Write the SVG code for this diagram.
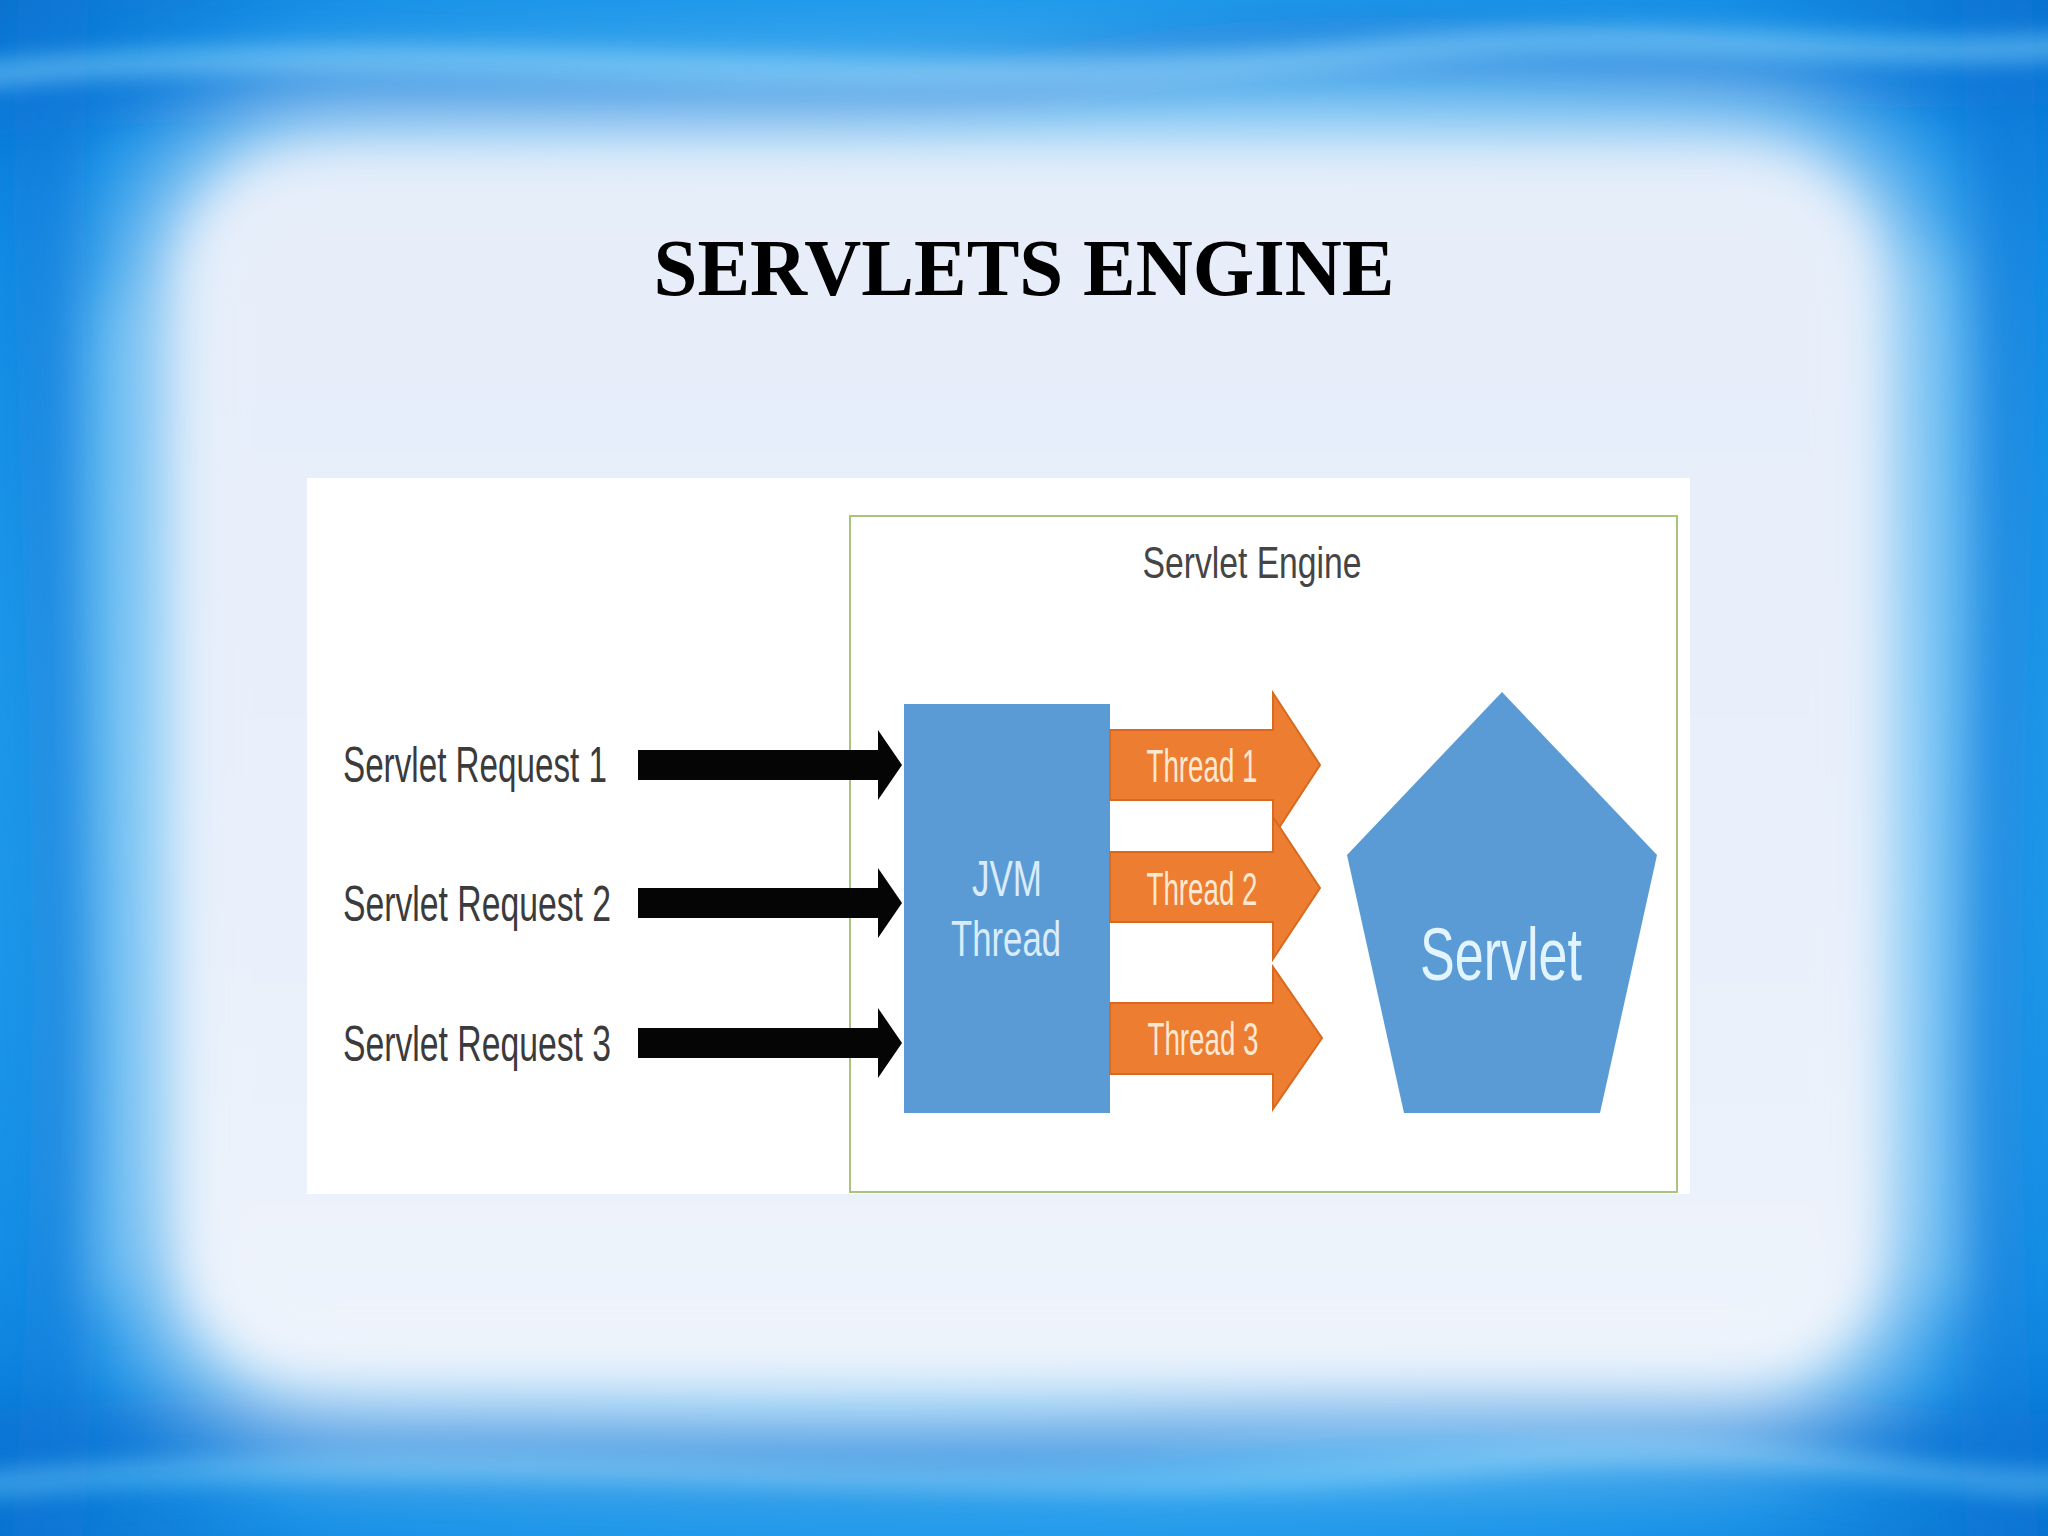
<svg xmlns="http://www.w3.org/2000/svg" width="2048" height="1536" viewBox="0 0 2048 1536">
<defs>
<style>
.lbl{font-family:"Liberation Sans","DejaVu Sans",sans-serif;}
.req{font-size:50px;fill:#3b3b3b;}
.thr{font-size:46px;fill:#fde9d2;}
.jvm{font-size:50px;fill:#d8ecfb;}
.blue{fill:#5b9bd5;}
.orange{fill:#ed7d31;stroke:#d9691f;stroke-width:2;}
.blk{fill:#050505;}
</style>
<filter id="b60" filterUnits="userSpaceOnUse" x="-300" y="-300" width="2648" height="2136"><feGaussianBlur stdDeviation="60"/></filter>
<filter id="b25" filterUnits="userSpaceOnUse" x="-300" y="-300" width="2648" height="2136"><feGaussianBlur stdDeviation="25"/></filter>
<filter id="b12" filterUnits="userSpaceOnUse" x="-300" y="-300" width="2648" height="2136"><feGaussianBlur stdDeviation="12"/></filter>
<radialGradient id="bg" cx="50%" cy="50%" r="75%">
<stop offset="0.5" stop-color="#2aa6f0"/>
<stop offset="0.8" stop-color="#138ee6"/>
<stop offset="1" stop-color="#0a66c4"/>
</radialGradient>
<linearGradient id="inner" x1="0" y1="0" x2="0" y2="1">
<stop offset="0" stop-color="#e6eefa"/>
<stop offset="0.6" stop-color="#e9f0fb"/>
<stop offset="1" stop-color="#eef4fc"/>
</linearGradient>
</defs>

<g id="background">
<rect width="2048" height="1536" fill="url(#bg)"/>
<path d="M-100,120 C300,40 700,160 1100,70 C1500,0 1800,120 2148,60" fill="none" stroke="#0b74d6" stroke-width="60" filter="url(#b25)" opacity="0.7"/>
<path d="M-100,1460 C400,1380 800,1500 1200,1420 C1600,1350 1850,1480 2148,1440" fill="none" stroke="#0b6fd0" stroke-width="70" filter="url(#b25)" opacity="0.7"/>
<path d="M60,-100 C20,400 110,800 40,1636" fill="none" stroke="#0d78d8" stroke-width="70" filter="url(#b25)" opacity="0.6"/>
<path d="M1990,-100 C2030,400 1950,900 2010,1636" fill="none" stroke="#0d78d8" stroke-width="70" filter="url(#b25)" opacity="0.6"/>
<path d="M-60,80 C400,20 900,110 1400,50 C1700,20 1900,70 2120,40" fill="none" stroke="#7fd0fa" stroke-width="18" filter="url(#b12)" opacity="0.8"/>
<path d="M-60,1490 C500,1430 1000,1520 1500,1460 C1800,1430 1950,1500 2120,1480" fill="none" stroke="#6cc8f8" stroke-width="18" filter="url(#b12)" opacity="0.7"/>
<path d="M120,300 C90,600 150,1000 110,1300" fill="none" stroke="#5fc0f6" stroke-width="30" filter="url(#b25)" opacity="0.6"/>
<path d="M1930,250 C1960,600 1900,1000 1940,1300" fill="none" stroke="#5fc0f6" stroke-width="30" filter="url(#b25)" opacity="0.6"/>
<rect x="140" y="110" width="1780" height="1320" rx="180" fill="#eaf2fc" filter="url(#b60)"/>
<rect x="190" y="160" width="1680" height="1210" rx="120" fill="url(#inner)" filter="url(#b25)"/>
</g>

<g id="title">
<text x="1024" y="295" text-anchor="middle" font-family="'Liberation Serif','Times New Roman',serif" font-weight="bold" font-size="80" textLength="741" lengthAdjust="spacingAndGlyphs" fill="#000">SERVLETS ENGINE</text>
</g>

<g id="panel">
<rect x="307" y="478" width="1383" height="716" fill="#ffffff"/>
</g>

<g id="servlet-engine">
<rect x="850" y="516" width="827" height="676" fill="#ffffff" stroke="#a9c47c" stroke-width="2"/>
<text class="lbl" x="1252" y="578" text-anchor="middle" font-size="44" fill="#454545" textLength="219" lengthAdjust="spacingAndGlyphs">Servlet Engine</text>
</g>

<g id="requests">
<text class="lbl req" x="343" y="782" textLength="264" lengthAdjust="spacingAndGlyphs">Servlet Request 1</text>
<text class="lbl req" x="343" y="921" textLength="268" lengthAdjust="spacingAndGlyphs">Servlet Request 2</text>
<text class="lbl req" x="343" y="1061" textLength="268" lengthAdjust="spacingAndGlyphs">Servlet Request 3</text>
</g>

<g id="connectors">
<path class="blk" d="M638,750 H878 V730 L902,765 L878,800 V780 H638 Z"/>
<path class="blk" d="M638,888 H878 V868 L902,903 L878,938 V918 H638 Z"/>
<path class="blk" d="M638,1028 H878 V1008 L902,1043 L878,1078 V1058 H638 Z"/>
</g>

<g id="jvm-thread">
<rect class="blue" x="904" y="704" width="206" height="409"/>
<text class="lbl jvm" x="1007" y="896" text-anchor="middle" textLength="70" lengthAdjust="spacingAndGlyphs">JVM</text>
<text class="lbl jvm" x="1006" y="956" text-anchor="middle" textLength="110" lengthAdjust="spacingAndGlyphs">Thread</text>
</g>

<g id="thread-1">
<path class="orange" d="M1110,730 H1273 V693 L1320,765 L1273,837 V800 H1110 Z"/>
<text class="lbl thr" x="1202" y="782" text-anchor="middle" textLength="111" lengthAdjust="spacingAndGlyphs">Thread 1</text>
</g>
<g id="thread-2">
<path class="orange" d="M1110,852 H1273 V817 L1320,888 L1273,959 V922 H1110 Z"/>
<text class="lbl thr" x="1202" y="905" text-anchor="middle" textLength="111" lengthAdjust="spacingAndGlyphs">Thread 2</text>
</g>
<g id="thread-3">
<path class="orange" d="M1110,1003 H1273 V967 L1322,1038 L1273,1109 V1074 H1110 Z"/>
<text class="lbl thr" x="1203" y="1055" text-anchor="middle" textLength="111" lengthAdjust="spacingAndGlyphs">Thread 3</text>
</g>

<g id="servlet">
<polygon class="blue" points="1502,692 1657,855 1600,1113 1404,1113 1347,855"/>
<text class="lbl" x="1501" y="980" text-anchor="middle" font-size="74" fill="#e2f4ff" textLength="162" lengthAdjust="spacingAndGlyphs">Servlet</text>
</g>
</svg>
